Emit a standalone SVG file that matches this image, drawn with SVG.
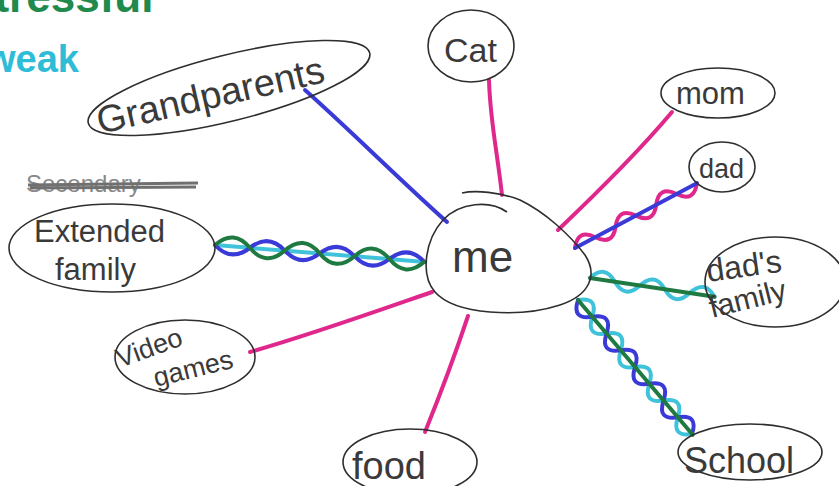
<svg xmlns="http://www.w3.org/2000/svg" width="839" height="486" viewBox="0 0 839 486">
<style>
.node{fill:none;stroke:#2e2e2e;stroke-width:1.6}
.lbl{font-family:"Liberation Sans","DejaVu Sans",sans-serif;fill:#3a3a3a;font-weight:normal}
.pink{fill:none;stroke:#e0288c;stroke-width:4;stroke-linecap:round}
.blue{fill:none;stroke:#3a3ad8;stroke-width:4;stroke-linecap:round}
.green{fill:none;stroke:#1f7a42;stroke-width:4;stroke-linecap:round}
.cyan{fill:none;stroke:#40c2da;stroke-width:4;stroke-linecap:round}
</style>
<rect width="839" height="486" fill="#ffffff"/>
<text x="-30" y="12" font-family="Liberation Sans,sans-serif" font-weight="bold" font-size="44" fill="#1f8a4c">stressful</text>
<text x="-14" y="72" font-family="Liberation Sans,sans-serif" font-weight="bold" font-size="38" fill="#2fbcd6">weak</text>

<g id="connectors">
  <path class="pink" d="M489,80 C490,120 497,150 502,195"/>
  <path class="pink" d="M672,112 C640,150 600,190 558,230"/>
  <path class="blue" d="M305,90 C350,130 400,180 447,222"/>
  <path class="pink" d="M250,352 C310,335 380,310 432,292"/>
  <path class="pink" d="M468,316 C455,355 440,395 425,432"/>
  <g transform="translate(215,245) rotate(4.6)">
    <path class="cyan" d="M0,0 L211,0"/>
    <path class="blue" d="M0,0 q17.5,16 35,0 t35,0 t35,0 t35,0 t35,0 t35,0"/>
    <path class="green" d="M0,0 q17.5,-18 35,0 t35,0 t35,0 t35,0 t35,0 t35,0"/>
  </g>
  <g transform="translate(575,248) rotate(-28)">
    <path class="pink" d="M0,0 q11.5,-16 23,0 t23,0 t23,0 t23,0 t23,0 t23,0"/>
    <path class="blue" d="M0,0 L138,0"/>
  </g>
  <g transform="translate(590,278) rotate(8.6)">
    <path class="cyan" d="M0,0 q12.6,-16 25.2,0 t25.2,0 t25.2,0 t25.2,0 t25.2,0"/>
    <path class="green" d="M0,0 L126,0"/>
  </g>
  <g transform="translate(578,300) rotate(49.6)">
    <path class="cyan" d="M0,0 q11,-18 22,0 t22,0 t22,0 t22,0 t22,0 t22,0 t22,0 t22,0"/>
    <path class="blue" d="M0,0 q11,18 22,0 t22,0 t22,0 t22,0 t22,0 t22,0 t22,0 t22,0"/>
    <path class="green" d="M0,0 L177,0"/>
  </g>
</g>

<g id="me">
  <path class="node" d="M507,212 C490,200 460,202 443,220 C425,240 420,275 435,292 C455,315 520,318 560,305 C590,295 598,275 585,255 C570,235 545,212 520,200 C500,192 475,190 462,193"/>
  <text class="lbl" x="452" y="272" font-size="44">me</text>
</g>
<g id="cat">
  <ellipse class="node" cx="471" cy="46" rx="43" ry="36"/>
  <text class="lbl" x="444" y="62" font-size="34">Cat</text>
</g>
<g id="mom">
  <ellipse class="node" cx="718" cy="93" rx="57" ry="25"/>
  <text class="lbl" x="676" y="104" font-size="31">mom</text>
</g>
<g id="dad">
  <ellipse class="node" cx="722" cy="167" rx="33" ry="25"/>
  <text class="lbl" x="699" y="178" font-size="27">dad</text>
</g>
<g id="grandparents">
  <ellipse class="node" cx="229" cy="88" rx="145" ry="33" transform="rotate(-14 229 88)"/>
  <text class="lbl" x="100" y="134" font-size="38" transform="rotate(-13 100 134)">Grandparents</text>
</g>
<g id="extended-family">
  <text x="26" y="192" font-family="Liberation Sans,sans-serif" font-size="24" fill="#888">Secondary</text>
  <path d="M28,185 L198,183 M30,188 L196,187" stroke="#707070" stroke-width="3" fill="none"/>
  <ellipse class="node" cx="112" cy="248" rx="103" ry="44"/>
  <text class="lbl" x="34" y="242" font-size="31">Extended</text>
  <text class="lbl" x="55" y="280" font-size="31">family</text>
</g>
<g id="dads-family">
  <ellipse class="node" cx="775" cy="282" rx="70" ry="45"/>
  <text class="lbl" x="708" y="282" font-size="32" transform="rotate(-8 708 282)">dad's</text>
  <text class="lbl" x="712" y="318" font-size="30" transform="rotate(-14 712 318)">family</text>
</g>
<g id="school">
  <ellipse class="node" cx="750" cy="452" rx="72" ry="28"/>
  <text class="lbl" x="684" y="473" font-size="36">School</text>
</g>
<g id="video-games">
  <ellipse class="node" cx="185" cy="357" rx="70" ry="37"/>
  <text class="lbl" x="120" y="368" font-size="27" transform="rotate(-20 120 368)">Video</text>
  <text class="lbl" x="156" y="387" font-size="27" transform="rotate(-14 156 387)">games</text>
</g>
<g id="food">
  <ellipse class="node" cx="410" cy="462" rx="67" ry="33"/>
  <text class="lbl" x="352" y="479" font-size="38">food</text>
</g>
</svg>
